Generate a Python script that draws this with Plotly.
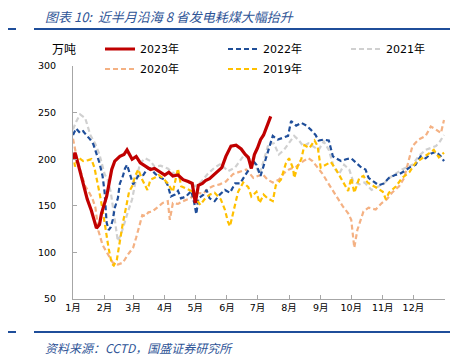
import plotly.graph_objects as go

# ---------------- data (day-of-year, value in 万吨) ----------------
days_2023 = [0,2,5,10,14,18,23,26,28,33,38,41,46,50,53,58,62,66,71,76,80,85,90,94,98,103,108,113,117,120,
             123,127,130,134,138,142,146,150,155,160,165,169,172,175,178,181,184,187,190,194]
vals_2023 = [200,207,195,175,157,145,126,130,142,160,189,198,203,205,210,200,203,196,192,189,190,186,183,186,182,183,178,176,174,153,
             172,174,177,179,183,186,191,203,214,215,211,205,202,190,205,212,221,226,234,246]

days_2022 = [0,3,7,10,13,17,20,23,26,29,31,32,33,35,37,39,41,44,46,49,51,53,56,59,64,69,73,76,81,86,
             90,93,96,100,103,106,111,116,119,121,123,128,131,134,139,144,149,154,159,164,169,174,177,180,184,187,191,196,201,206,
             211,214,219,224,229,233,238,241,246,251,255,258,263,268,273,278,283,287,290,295,300,305,310,316,320,325,330,336,341,346,
             351,356,361,364]
vals_2022 = [226,233,228,230,226,221,216,207,196,182,165,148,132,124,127,135,148,158,174,182,190,194,182,173,182,183,190,190,184,180,
             178,172,160,162,166,158,160,166,153,141,158,162,167,158,155,162,167,164,174,174,183,191,198,194,182,193,209,225,221,223,
             225,241,236,239,236,232,226,220,221,220,203,201,198,200,201,196,191,189,180,176,172,174,180,183,184,187,191,194,203,201,
             206,208,203,198]

days_2021 = [0,3,7,12,17,22,26,31,34,37,39,41,44,47,51,54,58,61,66,71,76,80,86,93,100,106,113,120,126,132,139,
             145,152,159,167,172,177,180,183,187,192,197,202,207,212,217,221,226,231,235,241,246,251,256,261,266,271,275,281,286,293,
             298,304,313,323,333,339,346,356,360,364]
vals_2021 = [232,240,248,244,226,216,205,184,178,165,150,134,112,119,134,144,157,174,196,201,198,192,193,190,184,180,175,171,176,184,191,
             195,187,191,203,201,198,190,184,198,217,217,205,210,218,225,221,214,217,214,210,219,210,191,184,194,189,176,173,175,167,
             170,173,182,189,194,203,210,214,219,226]

days_2020 = [0,4,7,12,15,19,22,25,29,34,39,44,49,54,59,62,66,68,71,74,78,83,88,93,95,98,103,108,115,121,
             128,132,137,144,150,157,164,170,177,181,186,191,196,202,207,212,219,226,231,235,240,245,250,255,260,265,270,273,275,276,
             279,283,285,290,297,303,308,313,320,325,330,333,339,346,351,356,361,364]
vals_2020 = [222,200,189,171,166,158,148,123,108,98,89,87,89,98,105,116,133,140,139,143,144,148,153,155,135,153,152,155,158,164,
             163,168,171,173,176,184,187,189,180,182,184,178,175,178,185,189,192,198,201,198,191,184,175,166,158,149,142,135,115,105,
             124,137,144,148,146,153,157,164,171,180,200,214,221,225,235,232,228,242]

days_2019 = [0,2,5,10,15,18,21,24,26,29,32,35,38,40,43,46,49,52,55,58,61,64,68,73,76,80,84,88,93,98,
             103,106,113,118,121,125,129,134,139,145,149,152,154,157,159,162,167,172,175,180,183,187,191,196,199,204,209,212,216,217,
             221,224,227,232,237,240,243,248,253,258,261,266,270,273,276,281,285,289,294,300,304,307,310,317,323,330,336,343,349,354,
             359,364]
vals_2019 = [205,192,202,198,199,200,191,176,164,146,124,104,88,86,92,114,132,148,165,171,182,189,178,167,178,180,183,180,174,165,
             190,171,167,165,157,151,157,162,164,157,146,133,128,142,149,165,175,170,160,165,153,162,158,155,172,178,196,201,190,180,
             194,200,215,212,220,214,191,194,197,189,183,173,166,180,164,180,182,175,172,168,165,157,164,171,180,186,196,201,206,210,
             202,207]

month_start_days = [0,31,59,90,120,151,181,212,243,273,304,334,365]
month_labels = ["1月","2月","3月","4月","5月","6月","7月","8月","9月","10月","11月","12月",""]
y_ticks = [50,100,150,200,250,300]

title_text = "图表 10:  近半月沿海 8 省发电耗煤大幅抬升"
source_text = "资料来源：CCTD，国盛证券研究所"
unit_text = "万吨"

# ---------------- figure ----------------
W, H = 458, 356
L, R, T, B = 65, 21, 58, 65
pw, ph = W - L - R, H - T - B

def px_x(p):
    return (p - L) / pw

def px_y(p):
    return (H - B - p) / ph

DASH = "5px,3px"
BLUE_TXT = "#2F5597"

fig = go.Figure()
series = [
    ("2021年", days_2021, vals_2021, "#D0D0D0", DASH, 2.2, "legend", 3),
    ("2020年", days_2020, vals_2020, "#F4B183", DASH, 2.2, "legend2", 1),
    ("2022年", days_2022, vals_2022, "#1F4E9A", DASH, 2.2, "legend", 2),
    ("2019年", days_2019, vals_2019, "#FFC000", DASH, 2.2, "legend2", 2),
    ("2023年", days_2023, vals_2023, "#C00000", "solid", 3.2, "legend", 1),
]
for name, xs, ys, color, dash, width, lg, rank in series:
    fig.add_trace(go.Scatter(
        x=xs, y=ys, mode="lines", name=name,
        line=dict(color=color, dash=dash, width=width),
        legend=lg, legendrank=rank, hoverinfo="skip",
    ))

tick_font = dict(family="DejaVu Sans, Noto Sans CJK SC", size=9.5, color="#000000")
legend_common = dict(
    orientation="h", xanchor="left", yanchor="middle",
    entrywidth=78, entrywidthmode="pixels",
    font=dict(family="DejaVu Sans, Noto Sans CJK SC", size=11, color="#000000"),
    bgcolor="rgba(0,0,0,0)", borderwidth=0, traceorder="normal",
    tracegroupgap=0, itemclick=False, itemdoubleclick=False,
)

fig.update_layout(
    width=W, height=H,
    margin=dict(l=L, r=R, t=T, b=B, autoexpand=False),
    paper_bgcolor="white", plot_bgcolor="white",
    showlegend=True,
    legend=dict(x=px_x(92), y=px_y(41), **legend_common),
    legend2=dict(x=px_x(92), y=px_y(61), **legend_common),
    xaxis=dict(
        range=[0, 365], tickmode="array", tickvals=month_start_days, ticktext=month_labels,
        showgrid=False, zeroline=False, showline=True, linecolor="#A6A6A6", linewidth=1,
        ticks="inside", ticklen=4, tickcolor="#A6A6A6", tickfont=tick_font,
        ticklabelstandoff=0,
    ),
    yaxis=dict(
        range=[50, 300], tickmode="array", tickvals=y_ticks,
        showgrid=False, zeroline=False, showline=True, linecolor="#A6A6A6", linewidth=1,
        ticks="inside", ticklen=4, tickcolor="#A6A6A6", tickfont=tick_font,
        ticklabelstandoff=14,
    ),
    annotations=[
        dict(text=title_text, xref="paper", yref="paper", x=px_x(35), y=px_y(9),
             xanchor="left", yanchor="middle", showarrow=False,
             font=dict(family="Noto Sans CJK SC", size=13, color=BLUE_TXT, style="italic")),
        dict(text=source_text, xref="paper", yref="paper", x=px_x(35), y=px_y(339),
             xanchor="left", yanchor="middle", showarrow=False,
             font=dict(family="Noto Sans CJK SC", size=12, color=BLUE_TXT, style="italic")),
        dict(text=unit_text, xref="paper", yref="paper", x=px_x(56), y=px_y(40),
             xanchor="center", yanchor="middle", showarrow=False,
             font=dict(family="Noto Sans CJK SC", size=12, color="#000000")),
    ],
    shapes=[
        dict(type="line", xref="paper", yref="paper", x0=px_x(0), x1=px_x(8), y0=px_y(21), y1=px_y(21),
             line=dict(color="#1F4E9A", width=2)),
        dict(type="line", xref="paper", yref="paper", x0=px_x(26), x1=px_x(450), y0=px_y(21), y1=px_y(21),
             line=dict(color="#1F4E9A", width=2)),
        dict(type="line", xref="paper", yref="paper", x0=px_x(0), x1=px_x(8), y0=px_y(324), y1=px_y(324),
             line=dict(color="#1F4E9A", width=2)),
        dict(type="line", xref="paper", yref="paper", x0=px_x(26), x1=px_x(450), y0=px_y(324), y1=px_y(324),
             line=dict(color="#1F4E9A", width=2)),
    ],
)

fig.write_html("out.html")
